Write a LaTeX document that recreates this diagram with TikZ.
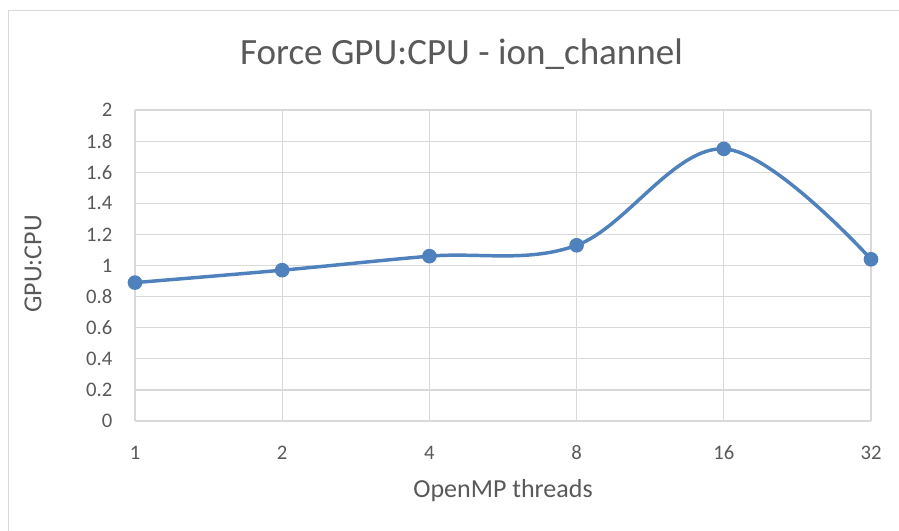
\documentclass[tikz,border=0pt]{standalone}
\usepackage{fontspec}
\setmainfont{Carlito}
\usetikzlibrary{positioning}
\definecolor{gridgray}{HTML}{D9D9D9}
\definecolor{labelgray}{HTML}{595959}
\definecolor{serblue}{HTML}{4F81BD}
\tikzstyle{gridline}=[draw=gridgray, line width=0.9pt]
\tikzstyle{datapt}=[circle, fill=serblue, inner sep=0pt, minimum size=11pt]
\tikzstyle{ticklabel}=[text=labelgray, inner sep=1pt, font=\fontsize{15.5}{18}\selectfont]
\tikzstyle{axtitle}=[text=labelgray, inner sep=1pt, font=\fontsize{19.5}{22}\selectfont]

\begin{document}
\begin{tikzpicture}[x=0.75pt, y=-0.75pt]
	\useasboundingbox (0,0) rectangle (899,531);
	% chart frame
	\draw[gridline] (8.5,531) |- (899,10.5);
	% grid
	\foreach \i in {0,...,5}
		\draw[gridline] ({135+\i*147.2},110) -- ({135+\i*147.2},421);
	\foreach \v in {0,0.2,...,2.01}
		\draw[gridline] (135,{421-\v*155.5}) -- (871,{421-\v*155.5});
	% tick labels
	\foreach \v/\lab in {0/0,0.2/0.2,0.4/0.4,0.6/0.6,0.8/0.8,1/1,1.2/1.2,1.4/1.4,1.6/1.6,1.8/1.8,2/2}
		\node[ticklabel, anchor=east] (ylab\lab) at (114,{421-\v*155.5}) {\lab};
	\foreach \t [count=\i from 0] in {1,2,4,8,16,32}
		\node[ticklabel] (xlab\t) at ({135+\i*147.2},453) {\t};
	% titles
	\node[text=labelgray, font=\fontsize{27.8}{30}\selectfont] (title) at (461.5,54) {Force GPU:CPU - ion\_channel};
	\node[axtitle] (xtitle) at (503,491) {OpenMP threads};
	\node[axtitle, rotate=90] (ytitle) at (33,264) {GPU:CPU};
	% series
	\foreach \v [count=\i from 0] in {0.89,0.97,1.06,1.13,1.75,1.04}
		\coordinate (c\i) at ({135+\i*147.2},{421-\v*155.5});
	\draw[serblue, line width=2.6pt, line cap=round]
		plot[smooth, tension=0.6] coordinates {(c0) (c1) (c2) (c3) (c4) (c5)};
	\foreach \i in {0,...,5}
		\node[datapt] (p\i) at (c\i) {};
\end{tikzpicture}
\end{document}
